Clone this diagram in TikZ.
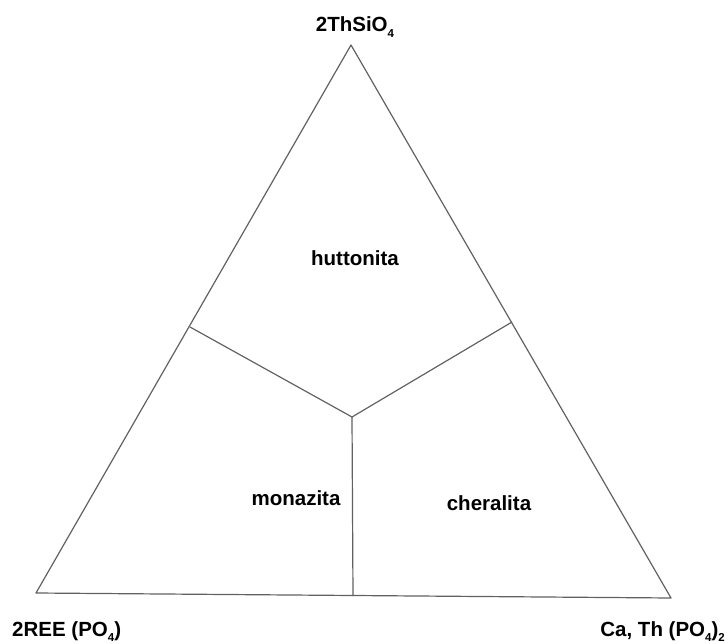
\documentclass[tikz,border=0pt]{standalone}
\usepackage{fontspec}
\setmainfont{Liberation Sans}
\newcommand\lowsub[1]{\raisebox{-0.25em}{\fontsize{11.5}{12}\selectfont #1}}
\begin{document}
\begin{tikzpicture}[x=1pt,y=-1pt,
  edge/.style={draw=black!62,line width=1.2pt,line join=round},
  lbl/.style={inner sep=0pt,anchor=base,font=\bfseries\fontsize{20.5}{24}\selectfont}]
\useasboundingbox (0,0) rectangle (728,644);
\coordinate (A) at (351,45);
\coordinate (L) at (36,593);
\coordinate (R) at (671,598);
\coordinate (ML) at (190,327);
\coordinate (MR) at (512,322);
\coordinate (MB) at (353,596);
\coordinate (C) at (352,417);
\draw[edge] (A) -- (L) -- (R) -- cycle;
\draw[edge] (ML) -- (C) -- (MR);
\draw[edge] (C) -- (MB);
\node[lbl] (top) at (355,32) {2ThSiO\lowsub{4}};
\node[lbl,anchor=base west] (bl) at (12,636) {2REE (PO\lowsub{4})};
\node[lbl,anchor=base east] (br) at (725,636) {Ca, Th (PO\lowsub{4})\lowsub{2}};
\node[lbl] (hut) at (355,266) {huttonita};
\node[lbl] (mon) at (296,505) {monazita};
\node[lbl] (che) at (489,510) {cheralita};
\end{tikzpicture}
\end{document}
